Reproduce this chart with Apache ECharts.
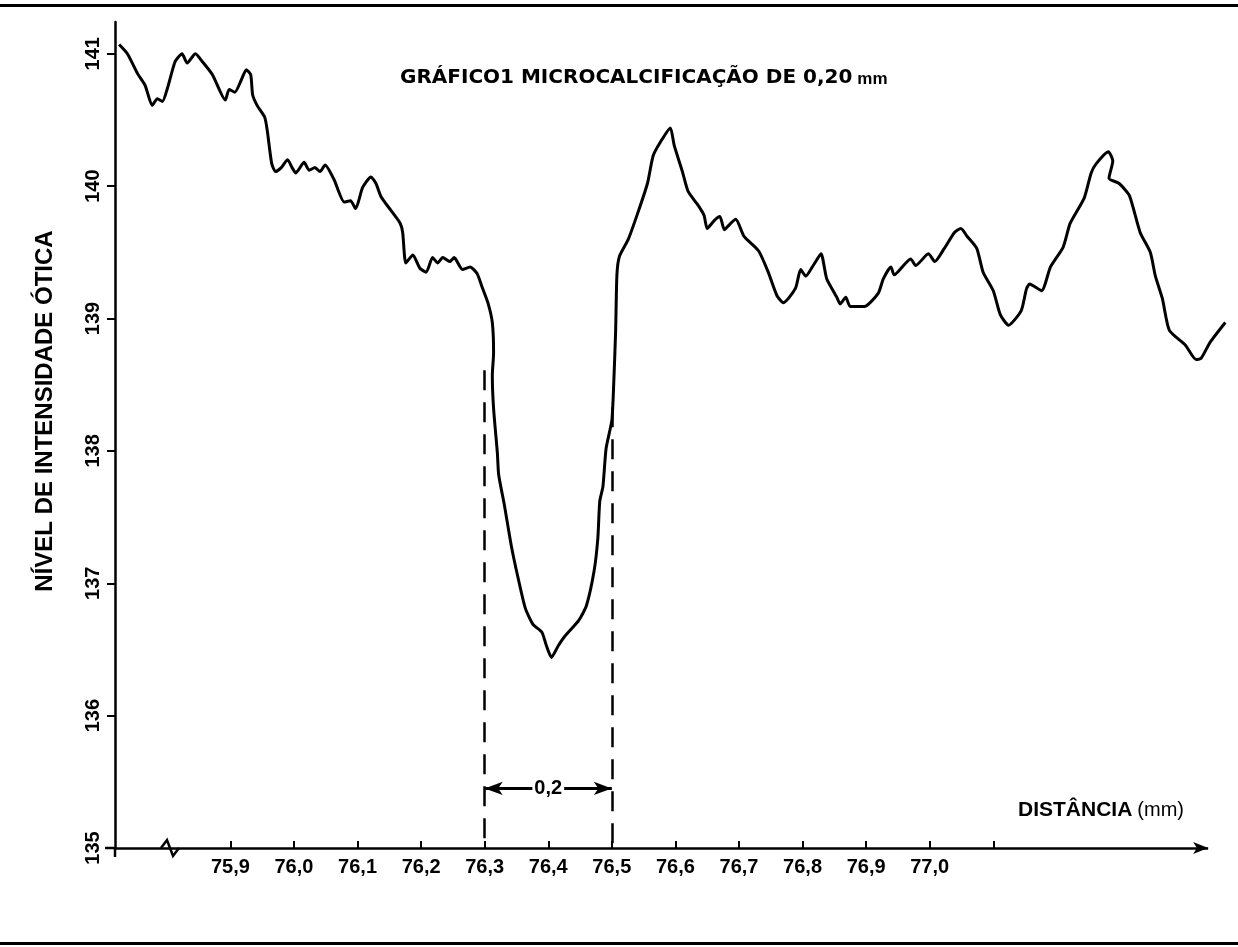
<!DOCTYPE html>
<html>
<head>
<meta charset="utf-8">
<script src="https://cdn.jsdelivr.net/npm/echarts@6/dist/echarts.min.js"></script>
<style>
html,body{margin:0;padding:0;background:#fff;}
#chart{width:1238px;height:947px;}
.rule{position:absolute;left:0;width:1238px;height:3px;background:#000;}
</style>
</head>
<body>
<div id="chart"></div>
<div class="rule" style="top:4px"></div>
<div class="rule" style="top:942px"></div>
<script>
// Distance along the scan (mm)
const distanceMm = [75.725, 75.738, 75.754, 75.766, 75.777, 75.785, 75.793, 75.801, 75.813, 75.824,
  75.832, 75.845, 75.856, 75.872, 75.892, 75.898, 75.907, 75.917, 75.925, 75.932,
  75.935, 75.942, 75.954, 75.958, 75.965, 75.971, 75.980, 75.990, 75.997, 76.003,
  76.016, 76.024, 76.033, 76.041, 76.049, 76.063, 76.079, 76.089, 76.097, 76.108,
  76.121, 76.129, 76.137, 76.152, 76.167, 76.171, 76.176, 76.187, 76.198, 76.208,
  76.218, 76.226, 76.234, 76.245, 76.252, 76.265, 76.277, 76.288, 76.295, 76.305,
  76.312, 76.314, 76.312, 76.314, 76.320, 76.322, 76.331, 76.342, 76.353, 76.364,
  76.376, 76.390, 76.397, 76.405, 76.416, 76.426, 76.448, 76.460, 76.472, 76.478,
  76.481, 76.486, 76.491, 76.500, 76.503, 76.506, 76.508, 76.512, 76.526, 76.541,
  76.556, 76.565, 76.576, 76.592, 76.598, 76.611, 76.620, 76.635, 76.645, 76.650,
  76.661, 76.670, 76.677, 76.685, 76.695, 76.708, 76.731, 76.746, 76.760, 76.770,
  76.789, 76.797, 76.805, 76.818, 76.829, 76.838, 76.854, 76.859, 76.868, 76.875,
  76.897, 76.919, 76.927, 76.939, 76.944, 76.970, 76.978, 76.998, 77.008, 77.023,
  77.039, 77.049, 77.059, 77.074, 77.084, 77.100, 77.111, 77.124, 77.144, 77.152,
  77.157, 77.176, 77.190, 77.210, 77.221, 77.243, 77.254, 77.262, 77.281, 77.288,
  77.282, 77.298, 77.314, 77.331, 77.347, 77.355, 77.366, 77.377, 77.402, 77.419,
  77.427, 77.441, 77.465];

// Optical intensity level
const intensity = [141.07, 141.00, 140.85, 140.76, 140.61, 140.66, 140.64, 140.74, 140.94, 141.00,
  140.93, 141.00, 140.94, 140.84, 140.65, 140.73, 140.71, 140.80, 140.88, 140.84,
  140.69, 140.61, 140.52, 140.42, 140.17, 140.11, 140.14, 140.20, 140.14, 140.10,
  140.18, 140.12, 140.14, 140.11, 140.16, 140.05, 139.88, 139.89, 139.83, 139.99,
  140.07, 140.02, 139.92, 139.82, 139.72, 139.65, 139.42, 139.48, 139.38, 139.35,
  139.46, 139.42, 139.46, 139.43, 139.46, 139.37, 139.39, 139.34, 139.25, 139.12,
  138.97, 138.74, 138.57, 138.32, 137.98, 137.82, 137.59, 137.28, 137.03, 136.81,
  136.69, 136.63, 136.53, 136.44, 136.53, 136.60, 136.72, 136.83, 137.09, 137.34,
  137.62, 137.73, 138.02, 138.23, 138.51, 138.91, 139.33, 139.47, 139.60, 139.80,
  140.02, 140.23, 140.33, 140.44, 140.31, 140.11, 139.96, 139.86, 139.78, 139.68,
  139.74, 139.77, 139.67, 139.71, 139.75, 139.62, 139.51, 139.35, 139.17, 139.12,
  139.23, 139.37, 139.32, 139.41, 139.49, 139.30, 139.16, 139.11, 139.16, 139.09,
  139.09, 139.19, 139.30, 139.39, 139.33, 139.45, 139.40, 139.49, 139.43, 139.53,
  139.65, 139.68, 139.62, 139.53, 139.35, 139.21, 139.03, 138.95, 139.06, 139.22,
  139.26, 139.21, 139.39, 139.54, 139.72, 139.91, 140.10, 140.17, 140.26, 140.19,
  140.06, 140.02, 139.93, 139.65, 139.50, 139.32, 139.15, 138.91, 138.80, 138.69,
  138.70, 138.82, 138.97];

// Axis ticks and labels
const xTickValues = [75.9, 76.0, 76.1, 76.2, 76.3, 76.4, 76.5, 76.6, 76.7, 76.8, 76.9, 77.0, 77.1];
const xLabelValues = [75.9, 76.0, 76.1, 76.2, 76.3, 76.4, 76.5, 76.6, 76.7, 76.8, 76.9, 77.0];
const yTickValues = [135, 136, 137, 138, 139, 140, 141];

// Axis extents (the drawn distance axis stops before the end of the trace)
const xMin = 75.7185;
const xMax = 77.4755;
const xAxisArrowEnd = 77.438;
const yMin = 135;
const yMax = 141.24;

// Width marker of the microcalcification
const markerStart = 76.3;
const markerEnd = 76.5;
const markerTopStart = 138.61;
const markerTopEnd = 138.33;
const arrowLevel = 135.45;
const markerLabel = '0,2';
const axisBreakAt = 75.805;

const FONT = '"Liberation Sans", Arial, Helvetica, sans-serif';
const chart = echarts.init(document.getElementById('chart'));

const option = {
  animation: false,
  backgroundColor: '#fff',
  title: [
    {
      text: '{a|GRÁFICO1 MICROCALCIFICAÇÃO DE 0,20} {b|mm}',
      left: 395, top: 62,
      textStyle: {
        rich: {
          a: { fontFamily: '"DejaVu Sans", sans-serif', fontWeight: 'bold', fontSize: 20, color: '#000' },
          b: { fontFamily: FONT, fontWeight: 'bold', fontSize: 17, color: '#000', padding: [4, 0, 0, 0] }
        }
      }
    },
    {
      text: '{a|DISTÂNCIA} {b|(mm)}',
      left: 1013, top: 795,
      textStyle: {
        rich: {
          a: { fontFamily: FONT, fontWeight: 'bold', fontSize: 21, color: '#000' },
          b: { fontFamily: FONT, fontWeight: 'normal', fontSize: 20, color: '#000' }
        }
      }
    }
  ],
  grid: { left: 115, right: 6, top: 22, bottom: 99, containLabel: false },
  xAxis: {
    type: 'value',
    min: xMin,
    max: xMax,
    axisLine: { show: false },
    axisTick: { show: true, inside: true, length: 7, customValues: xTickValues, lineStyle: { color: '#000', width: 2 } },
    axisLabel: {
      customValues: xLabelValues,
      formatter: v => v.toFixed(1).replace('.', ','),
      fontFamily: FONT, fontWeight: 'bold', fontSize: 20, color: '#000', margin: 9
    },
    splitLine: { show: false }
  },
  yAxis: {
    type: 'value',
    min: yMin,
    max: yMax,
    name: 'NÍVEL DE INTENSIDADE ÓTICA',
    nameLocation: 'middle',
    nameRotate: 90,
    nameGap: 58,
    nameTextStyle: { fontFamily: FONT, fontWeight: 'bold', fontSize: 24, color: '#000', padding: [0, 0, 0, 48] },
    axisLine: { show: true, onZero: false, lineStyle: { color: '#000', width: 2.5 } },
    axisTick: { show: true, inside: false, length: 8, customValues: yTickValues, lineStyle: { color: '#000', width: 2 } },
    axisLabel: {
      customValues: yTickValues,
      rotate: 90,
      formatter: v => String(v),
      fontFamily: FONT, fontWeight: 'bold', fontSize: 20, color: '#000', margin: 12
    },
    splitLine: { show: false }
  },
  series: [{
    type: 'line',
    data: distanceMm.map((d, i) => [d, intensity[i]]),
    showSymbol: false,
    smooth: 0.2,
    lineStyle: { color: '#000', width: 3 },
    markLine: {
      silent: true,
      symbol: ['none', 'none'],
      label: { show: false },
      lineStyle: { color: '#000', width: 2.5, type: [20, 12] },
      emphasis: { disabled: true },
      data: [
        // distance axis with arrow
        [
          { coord: [xMin, yMin], lineStyle: { type: 'solid', width: 2.5, color: '#000' } },
          { coord: [xAxisArrowEnd, yMin], symbol: 'arrow', symbolSize: [9, 15] }
        ],
        [{ coord: [markerStart, markerTopStart] }, { coord: [markerStart, yMin] }],
        [{ coord: [markerEnd, markerTopEnd] }, { coord: [markerEnd, yMin] }],
        [
          {
            coord: [markerStart, arrowLevel], symbol: 'arrow', symbolSize: [10, 18],
            lineStyle: { type: 'solid', width: 3, color: '#000' },
            label: {
              show: true, position: 'insideMiddle', distance: 0, formatter: markerLabel,
              fontFamily: FONT, fontWeight: 'bold', fontSize: 20, color: '#000',
              backgroundColor: '#fff', padding: [1, 2]
            }
          },
          { coord: [markerEnd, arrowLevel], symbol: 'arrow', symbolSize: [10, 18] }
        ]
      ]
    }
  }]
};
chart.setOption(option);

// decorations: axis-break mark and the crossing of the two axes at the origin
const p = chart.convertToPixel({ gridIndex: 0 }, [axisBreakAt, yMin]);
const o = chart.convertToPixel({ gridIndex: 0 }, [xMin, yMin]);
chart.setOption({
  graphic: [
    {
      type: 'polyline',
      shape: { points: [[p[0] - 9, p[1]], [p[0] - 3, p[1] - 8], [p[0] + 3, p[1] + 8], [p[0] + 9, p[1]]] },
      style: { stroke: '#000', lineWidth: 2.5, fill: null }
    },
    {
      type: 'polyline',
      shape: { points: [[o[0] - 10, o[1]], [o[0], o[1]], [o[0], o[1] + 9]] },
      style: { stroke: '#000', lineWidth: 2.5, fill: null }
    }
  ]
});
</script>
</body>
</html>
